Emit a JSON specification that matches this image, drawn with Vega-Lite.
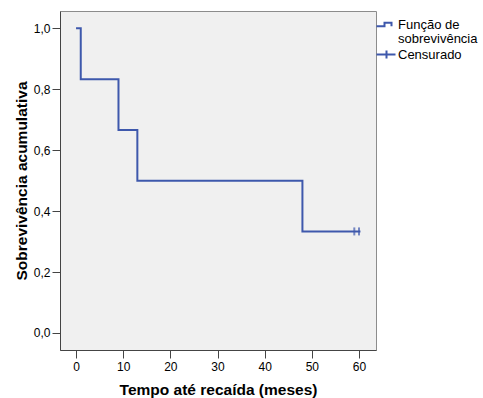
{
  "$schema": "https://vega.github.io/schema/vega-lite/v6.json",
  "width": 316,
  "height": 339,
  "autosize": {"type": "none"},
  "padding": {"left": 60, "top": 11, "right": 107, "bottom": 48},
  "background": "white",
  "config": {
    "font": "Liberation Sans",
    "view": {"fill": "#f0f0f0", "stroke": "#8c8c8c", "strokeWidth": 1}
  },
  "datasets": {
    "curva": [
      {"t": 0, "s": 1.0, "grupo": "Função de sobrevivência"},
      {"t": 1, "s": 0.8333, "grupo": "Função de sobrevivência"},
      {"t": 9, "s": 0.6667, "grupo": "Função de sobrevivência"},
      {"t": 13, "s": 0.5, "grupo": "Função de sobrevivência"},
      {"t": 48, "s": 0.3333, "grupo": "Função de sobrevivência"},
      {"t": 60.3, "s": 0.3333, "grupo": "Função de sobrevivência"}
    ],
    "censurado": [
      {"t": 59, "s": 0.3333, "grupo": "Censurado"},
      {"t": 60, "s": 0.3333, "grupo": "Censurado"}
    ]
  },
  "encoding": {
    "x": {
      "field": "t",
      "type": "quantitative",
      "scale": {"domain": [-3.4, 63.6], "nice": false, "zero": false},
      "axis": {
        "title": "Tempo até recaída (meses)",
        "values": [0, 10, 20, 30, 40, 50, 60],
        "grid": false,
        "tickSize": 8,
        "tickColor": "#444444",
        "domainColor": "#444444",
        "labelFontSize": 12,
        "labelColor": "black",
        "labelPadding": 3,
        "titleFontSize": 15.5,
        "titleFontWeight": "bold",
        "titleColor": "black",
        "titlePadding": 10
      }
    },
    "y": {
      "field": "s",
      "type": "quantitative",
      "scale": {"domain": [-0.056, 1.057], "nice": false, "zero": false},
      "axis": {
        "title": "Sobrevivência acumulativa",
        "values": [0, 0.2, 0.4, 0.6, 0.8, 1.0],
        "labelExpr": "replace(format(datum.value, '.1f'), '.', ',')",
        "grid": false,
        "tickSize": 8,
        "tickColor": "#444444",
        "domainColor": "#444444",
        "labelFontSize": 12,
        "labelColor": "black",
        "labelPadding": 2,
        "titleFontSize": 15.5,
        "titleFontWeight": "bold",
        "titleColor": "black",
        "titlePadding": 4
      }
    },
    "color": {
      "field": "grupo",
      "type": "nominal",
      "scale": {
        "domain": ["Função de sobrevivência", "Censurado"],
        "range": ["#3e58ac", "#3e58ac"]
      },
      "legend": {
        "orient": "none",
        "legendX": 320,
        "legendY": 7,
        "title": null,
        "labelFontSize": 13,
        "labelColor": "black",
        "labelLimit": 200,
        "labelExpr": "datum.label == 'Função de sobrevivência' ? ['Função de', 'sobrevivência'] : datum.label",
        "symbolSize": 100,
        "symbolStrokeWidth": 2,
        "symbolFillColor": "transparent",
        "labelOffset": 5,
        "rowPadding": 0,
        "encode": {
          "symbols": {
            "update": {
              "shape": {"signal": "datum.value == 'Censurado' ? 'M-2,0H1.8M0,-0.8V0.8' : 'M-2,0.34H-0.4V-0.34H1V0.34V-0.34H-0.4V0.34Z'"},
              "size": {"value": 100},
              "fill": {"value": "transparent"},
              "fillOpacity": {"value": 0},
              "stroke": {"value": "#3e58ac"},
              "strokeWidth": {"value": 2}
            }
          },
          "labels": {
            "update": {
              "lineHeight": {"value": 14}
            }
          }
        }
      }
    }
  },
  "layer": [
    {
      "data": {"name": "curva"},
      "mark": {"type": "line", "interpolate": "step-after", "strokeWidth": 2}
    },
    {
      "data": {"name": "censurado"},
      "mark": {"type": "tick", "orient": "vertical", "size": 8, "thickness": 2}
    }
  ]
}
